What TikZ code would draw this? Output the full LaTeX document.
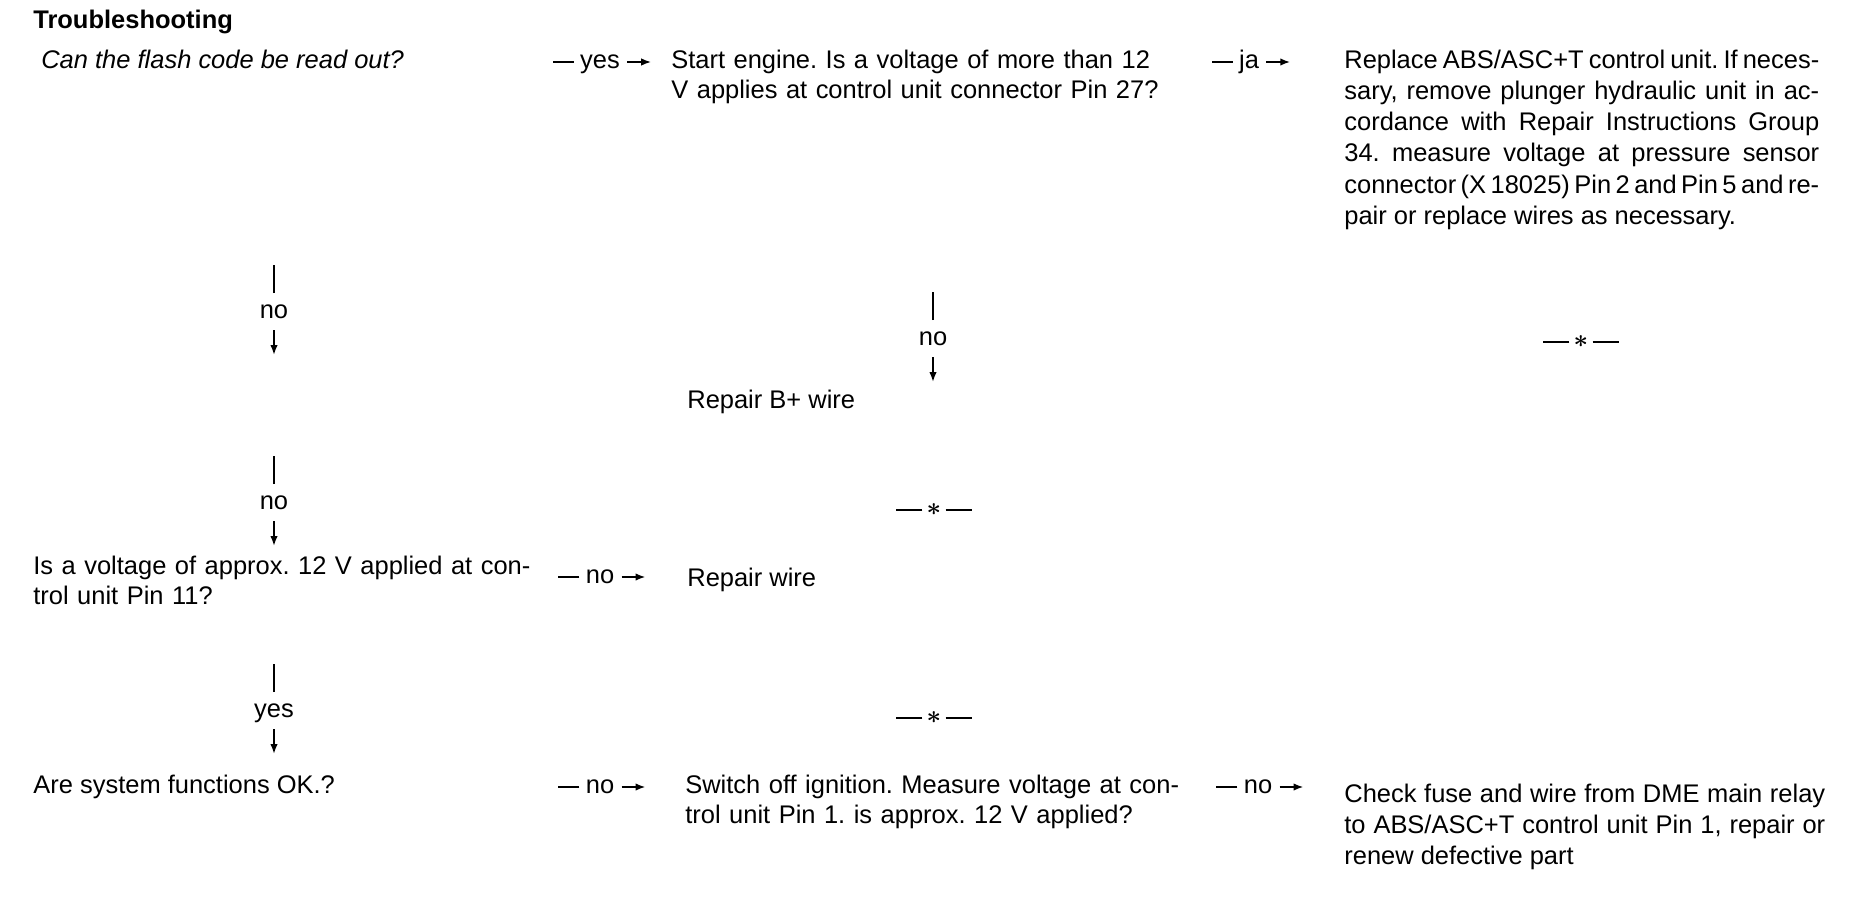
\documentclass[tikz,border=0pt]{standalone}
\usepackage{fontspec}
\setmainfont{Liberation Sans}
\usetikzlibrary{positioning,arrows.meta}
\frenchspacing

\begin{document}
\begin{tikzpicture}[
x=0.02cm, y=-0.02cm,
txt/.style={anchor=base west, inner sep=0pt, align=left, font=\fontsize{14.5}{17.6}\selectfont},
block/.style={txt, text width=11cm},
para/.style={txt, align=justify, text width=#1, font=\fontsize{14.5}{17.8}\selectfont},
lbl/.style={anchor=base, inner sep=0pt, font=\fontsize{14.5}{17.6}\selectfont},
stopmark/.style={anchor=center, inner sep=0pt, font=\fontsize{14.5}{17.6}\selectfont\boldmath},
stroke/.style={line width=1pt},
arrow/.style={-{Latex[length=2mm,width=1.5mm]}, line width=1pt}
]
\useasboundingbox (0,0) rectangle (1852,896);

% first row
\node[txt, font=\fontsize{14.5}{17.6}\selectfont\bfseries] (title) at (33,28) {Troubleshooting};
\node[txt, font=\fontsize{14.5}{17.6}\selectfont\itshape] (flash) at (41,68) {Can the flash code be read out?};
\node[lbl] (yes1) at (600,68) {yes};
\node[block] (engine) at (671,68) {Start engine. Is a voltage of more than 12\\V applies at control unit connector Pin 27?};
\node[lbl] (ja1) at (1249,68) {ja};
\node[para=9.5cm] (replace) at (1344,68) {\spaceskip=.278em plus .25em minus .12em\relax
Replace ABS/ASC+T control unit. If neces-\linebreak sary, remove plunger hydraulic unit in ac-\linebreak cordance with Repair Instructions Group\linebreak 34. measure voltage at pressure sensor\linebreak connector (X 18025) Pin 2 and Pin 5 and re-\linebreak pair or replace wires as necessary.};

\draw[stroke] (yes1.base west) ++(-6,-6) -- ++(-21,0);
\draw[arrow] (yes1.base east) ++(7,-6) -- ++(24,0);
\draw[stroke] (ja1.base west) ++(-6,-6) -- ++(-21,0);
\draw[arrow] (ja1.base east) ++(7,-6) -- ++(24,0);

% vertical steps
\node[lbl] (no1) at (274,318) {no};
\draw[stroke] (no1.base) ++(0,-25) -- ++(0,-28);
\draw[arrow] (no1.base) ++(0,12) -- ++(0,25);

\node[lbl] (no2) at (933,345) {no};
\draw[stroke] (no2.base) ++(0,-25) -- ++(0,-28);
\draw[arrow] (no2.base) ++(0,12) -- ++(0,25);

\node[txt] (bwire) at (687,408) {Repair B+ wire};

\node[stopmark] (end1) at (1581,342) {$\ast$};
\draw[stroke] (end1.west) ++(-4,0) -- ++(-26,0);
\draw[stroke] (end1.east) ++(4,0) -- ++(26,0);

\node[lbl] (no3) at (274,509) {no};
\draw[stroke] (no3.base) ++(0,-25) -- ++(0,-28);
\draw[arrow] (no3.base) ++(0,12) -- ++(0,25);

\node[stopmark] (end2) at (934,510) {$\ast$};
\draw[stroke] (end2.west) ++(-4,0) -- ++(-26,0);
\draw[stroke] (end2.east) ++(4,0) -- ++(26,0);

% pin 11
\node[block] (pin11) at (33,574) {Is a voltage of approx. 12 V applied at con-\\trol unit Pin 11?};
\node[lbl] (no4) at (600,583) {no};
\node[txt] (wire) at (687,586) {Repair wire};
\draw[stroke] (no4.base west) ++(-6,-6) -- ++(-21,0);
\draw[arrow] (no4.base east) ++(7,-6) -- ++(24,0);

\node[lbl] (yes2) at (274,717) {yes};
\draw[stroke] (yes2.base) ++(0,-25) -- ++(0,-28);
\draw[arrow] (yes2.base) ++(0,12) -- ++(0,25);

\node[stopmark] (end3) at (934,718) {$\ast$};
\draw[stroke] (end3.west) ++(-4,0) -- ++(-26,0);
\draw[stroke] (end3.east) ++(4,0) -- ++(26,0);

% last row
\node[txt] (system) at (33,793) {Are system functions OK.?};
\node[lbl] (no5) at (600,793) {no};
\node[block] (ignition) at (685,793) {Switch off ignition. Measure voltage at con-\\trol unit Pin 1. is approx. 12 V applied?};
\node[lbl] (no6) at (1258,793) {no};
\node[para=9.62cm] (fuse) at (1344,802) {\spaceskip=.278em plus .25em minus .12em\relax
Check fuse and wire from DME main relay\linebreak to ABS/ASC+T control unit Pin 1, repair or\linebreak renew defective part};

\draw[stroke] (no5.base west) ++(-6,-6) -- ++(-21,0);
\draw[arrow] (no5.base east) ++(7,-6) -- ++(24,0);
\draw[stroke] (no6.base west) ++(-6,-6) -- ++(-21,0);
\draw[arrow] (no6.base east) ++(7,-6) -- ++(24,0);
\end{tikzpicture}
\end{document}
